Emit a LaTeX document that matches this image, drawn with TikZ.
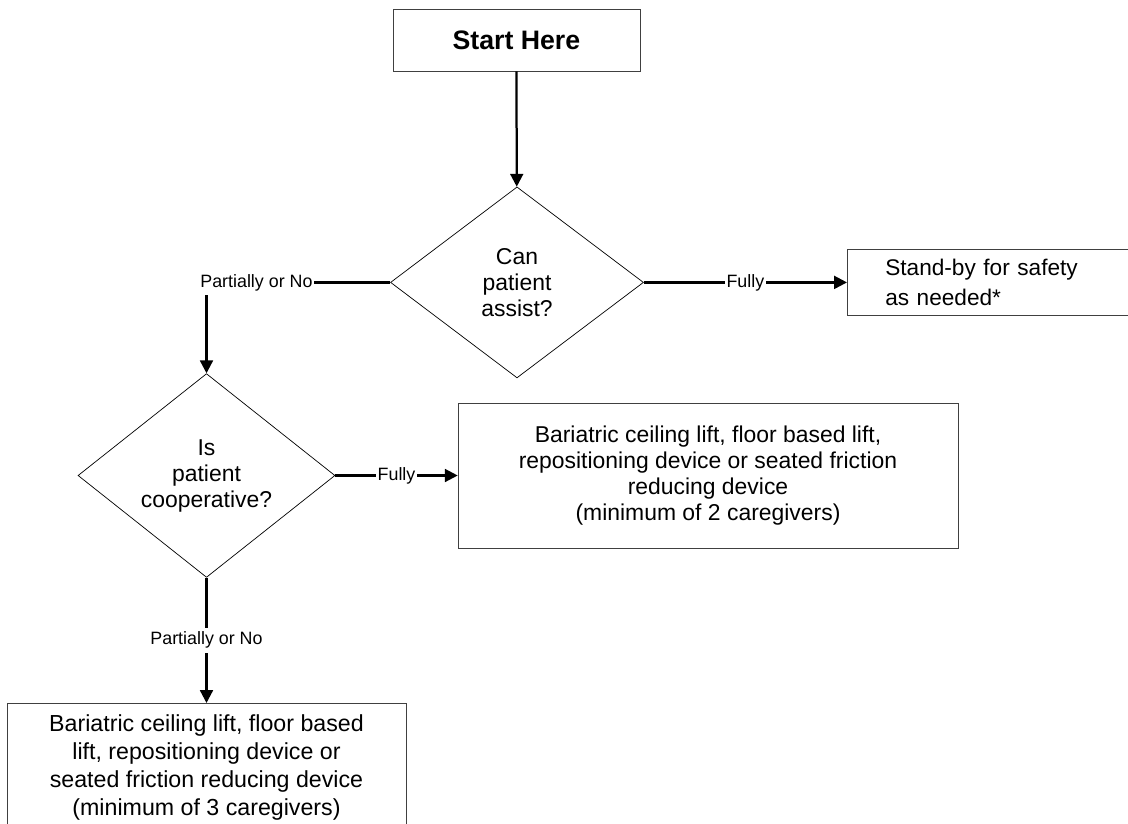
\documentclass[tikz,border=0pt]{standalone}
\usepackage{fontspec}
\setmainfont{Liberation Sans}
\usepackage{tikz}
\usetikzlibrary{shapes.geometric, arrows.meta, positioning}

\begin{document}
\begin{tikzpicture}[font=\fontsize{16.3pt}{18.5pt}\selectfont,
	box/.style={draw=black!75, rectangle, align=center, inner sep=0pt},
	decision/.style={draw, diamond, align=center, inner sep=0pt, line width=0.5pt},
	conn/.style={draw, line width=1.6pt, -{Triangle[length=0.32cm, width=0.32cm]}},
	lbl/.style={fill=white, inner xsep=1pt, inner ysep=3pt, font=\fontsize{12.7pt}{14pt}\selectfont}]
		\useasboundingbox (0, 0) rectangle (28.2, -20.575);
		\node[box, minimum width=6.175cm, minimum height=1.55cm, font=\fontsize{19pt}{22pt}\selectfont\bfseries] (start-here) at (12.91, -1.0) {Start Here};
		\node[decision, minimum width=6.325cm, minimum height=4.775cm] (can-assist) at (12.925, -7.06) {Can\\patient\\assist?};
		\node[box, anchor=west, align=left, minimum height=1.65cm, text width=5.6cm, inner xsep=0.95cm, font=\fontsize{16.1pt}{21pt}\selectfont] (stand-by) at (21.175, -7.06) {Stand-by for safety\\as needed*};
		\node[decision, minimum width=6.425cm, minimum height=4.825cm] (is-cooperative) at (5.1625, -11.8875) {Is\\patient\\cooperative?};
		\node[box, minimum width=12.5cm, minimum height=3.625cm] (lift-2) at (17.7, -11.8875) {Bariatric ceiling lift, floor based lift,\\repositioning device or seated friction\\reducing device\\(minimum of 2 caregivers)};
		\node[box, anchor=north, minimum width=9.975cm, minimum height=3.2cm, font=\fontsize{16.5pt}{20pt}\selectfont] (lift-3) at (5.1625, -17.575) {Bariatric ceiling lift, floor based\\lift, repositioning device or\\seated friction reducing device\\(minimum of 3 caregivers)};
		\path [conn] (start-here) -- (can-assist);
		\path [conn] (can-assist.east) -- node [lbl] {Fully} (stand-by);
		\path [conn] (can-assist.west) -| node [lbl, pos=0.364] {Partially or No} (is-cooperative.north);
		\path [conn] (is-cooperative.east) -- node [lbl] {Fully} (lift-2);
		\path [conn] (is-cooperative.south) -- node [lbl] {Partially or No} (lift-3);
	\end{tikzpicture}
\end{document}
